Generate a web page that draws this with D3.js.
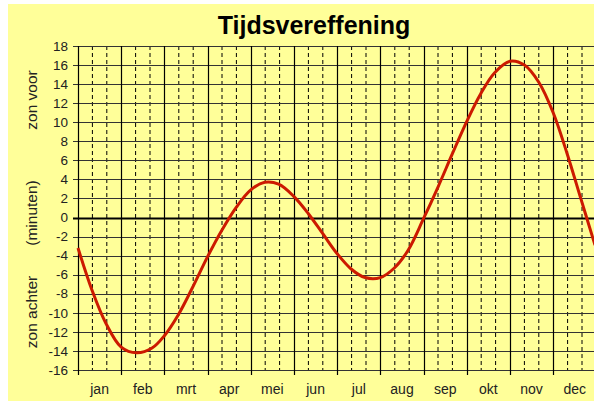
<!DOCTYPE html>
<html>
<head>
<meta charset="utf-8">
<script src="https://cdn.jsdelivr.net/npm/d3@7"></script>
<style>
  html, body { margin: 0; padding: 0; background: #ffffff; }
  svg { display: block; font-family: "Liberation Sans", Arial, sans-serif; }
</style>
</head>
<body>
<svg id="chart" width="594" height="401"></svg>
<script>
// ---- data ----
const months = ["jan","feb","mrt","apr","mei","jun","jul","aug","sep","okt","nov","dec"];
const daysInMonth = [31,28,31,30,31,30,31,31,30,31,30,31];
const sampleDays = [1, 11, 21];
// equation of time (minutes, + = zon voor) on the 1st, 11th and 21st of each month
const eotValues = [
  -3.2, -7.6, -11.1,
  -13.6, -14.2, -13.7,
  -12.4, -10.2, -7.4,
  -4.1, -1.3, 1.1,
  2.9, 3.7, 3.5,
  2.2, 0.4, -1.7,
  -3.8, -5.4, -6.3,
  -6.3, -5.3, -3.4,
  -0.1, 3.2, 6.7,
  10.1, 13.0, 15.2,
  16.4, 16.0, 14.2,
  11.0, 6.7, 1.9
];
const yearEndValue = -2.9; // 31 dec
const yTicks = d3.range(-16, 19, 2);

// ---- layout ----
const svg = d3.select("#chart");
const W = 594, H = 401;
const plotLeft = 78, plotTop = 46, plotBottom = 370, monthW = 43.2;

svg.append("rect").attr("x", 8).attr("y", 4).attr("width", W - 8).attr("height", H - 4)
  .attr("fill", "#ffff99");

const x = d3.scaleLinear().domain([0, 12]).range([plotLeft, plotLeft + 12 * monthW]);
const y = d3.scaleLinear().domain([-16, 18]).range([plotBottom, plotTop]);

// points
const pts = [];
months.forEach((m, i) => {
  sampleDays.forEach((d, j) => {
    pts.push({ t: i + (d - 1) / daysInMonth[i], v: eotValues[i * 3 + j] });
  });
});
pts.push({ t: 11 + 30 / 31, v: yearEndValue });

// dashed decade lines
const g = svg.append("g");
d3.range(0, 12).forEach(i => {
  [1/3, 2/3].forEach(f => {
    g.append("line")
      .attr("x1", x(i + f)).attr("x2", x(i + f))
      .attr("y1", y(18)).attr("y2", y(-16))
      .attr("stroke", "#000").attr("stroke-width", 1)
      .attr("stroke-dasharray", "4,3");
  });
});

// horizontal grid lines
yTicks.forEach(t => {
  g.append("line")
    .attr("x1", plotLeft - 5).attr("x2", W)
    .attr("y1", Math.round(y(t)) + 0.5).attr("y2", Math.round(y(t)) + 0.5)
    .attr("stroke", t === 0 ? "#000" : "#333")
    .attr("stroke-width", t === 0 ? 2 : 1);
});

// month lines (solid) with ticks below
d3.range(0, 13).forEach(i => {
  g.append("line")
    .attr("x1", Math.round(x(i)) + 0.5).attr("x2", Math.round(x(i)) + 0.5)
    .attr("y1", y(18)).attr("y2", y(-16) + 5)
    .attr("stroke", "#000").attr("stroke-width", 1.2);
});

// y tick labels
svg.append("g").selectAll("text").data(yTicks).join("text")
  .attr("x", 68).attr("y", d => y(d) + 4.7)
  .attr("text-anchor", "end").attr("font-size", 13.5).attr("fill", "#222")
  .text(d => d);

// month labels
svg.append("g").selectAll("text").data(months).join("text")
  .attr("x", (d, i) => x(i + 0.5)).attr("y", 394)
  .attr("text-anchor", "middle").attr("font-size", 14).attr("fill", "#222")
  .text(d => d);

// y axis titles
[["zon voor", 100], ["(minuten)", 213], ["zon achter", 312]].forEach(([t, cy]) => {
  svg.append("text")
    .attr("transform", `translate(37,${cy}) rotate(-90)`)
    .attr("text-anchor", "middle").attr("font-size", 15.5).attr("fill", "#222")
    .text(t);
});

// title
svg.append("text").attr("x", 314).attr("y", 34)
  .attr("text-anchor", "middle").attr("font-size", 25).attr("font-weight", "bold")
  .attr("fill", "#000").text("Tijdsvereffening");

// curve
const line = d3.line().x(d => x(d.t)).y(d => y(d.v)).curve(d3.curveCatmullRom);
svg.append("path").datum(pts).attr("d", line)
  .attr("fill", "none").attr("stroke", "#cc1a00").attr("stroke-width", 3);
</script>
</body>
</html>
